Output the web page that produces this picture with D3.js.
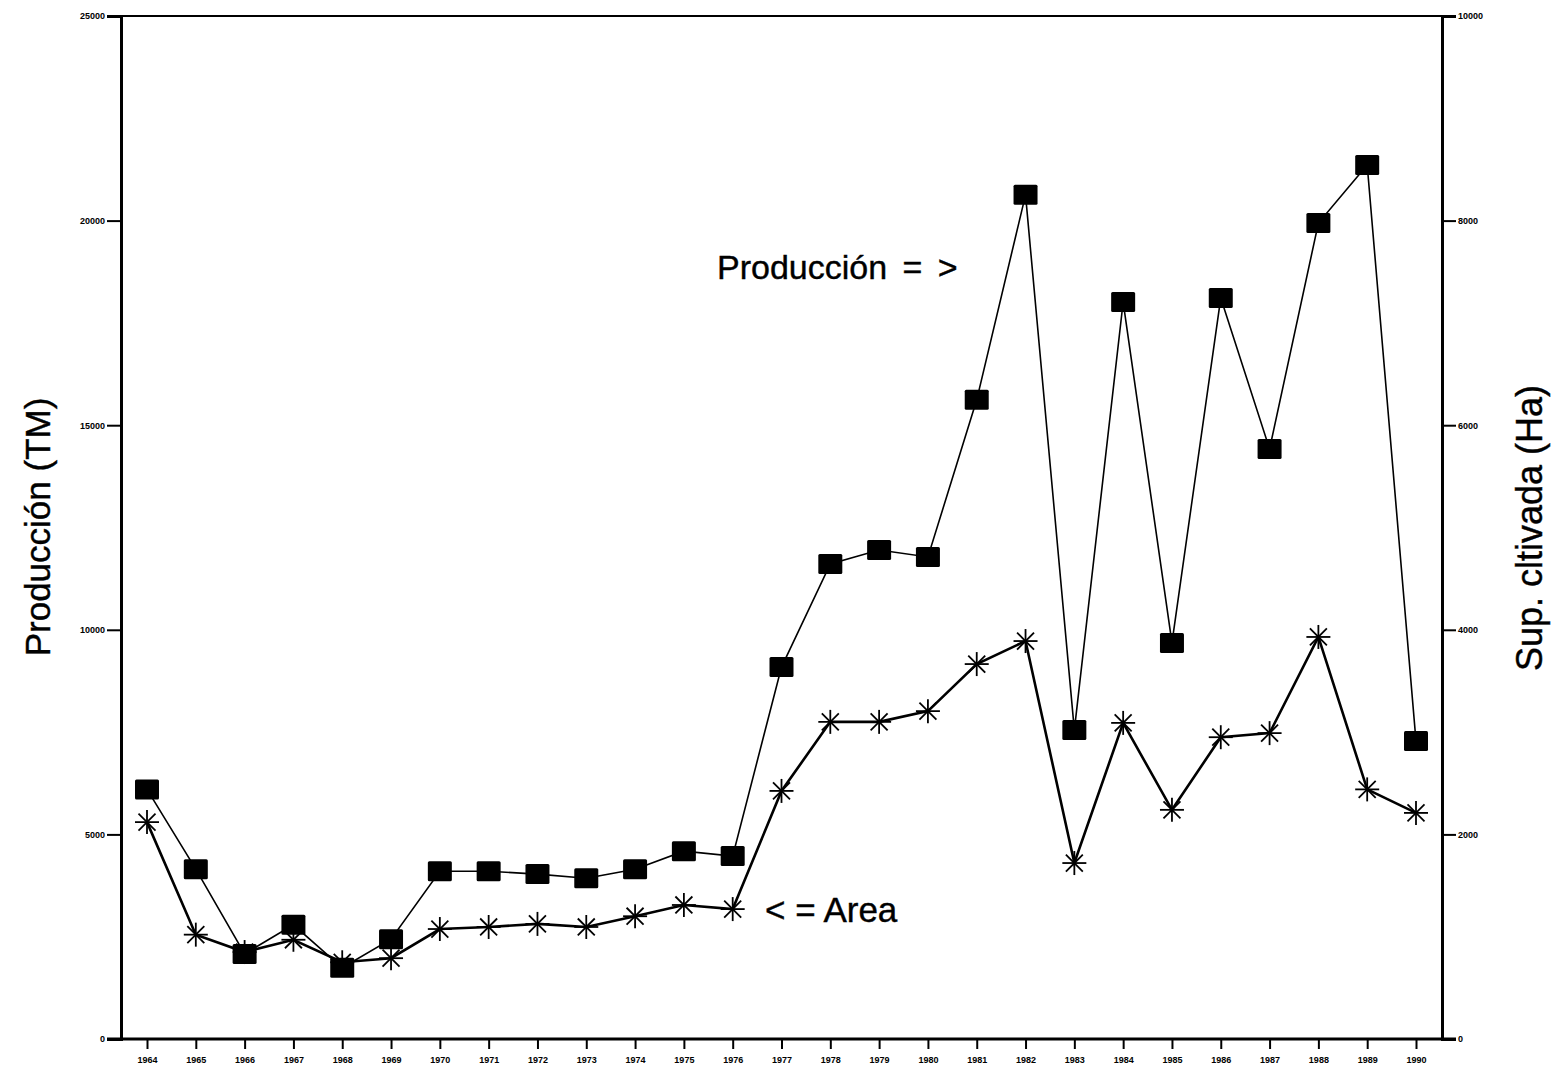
<!DOCTYPE html>
<html>
<head>
<meta charset="utf-8">
<script src="https://cdn.jsdelivr.net/npm/d3@7"></script>
<style>
  body { margin: 0; background: #fff; }
  svg { display: block; font-family: "Liberation Sans", Arial, sans-serif; }
  .tick text { font-weight: bold; font-size: 9px; }
  .label { stroke: black; stroke-width: 0.4px; }
</style>
</head>
<body>
<svg id="chart" width="1553" height="1070"></svg>
<script>
// Data
const years = d3.range(1964, 1991);
const produccion = [6100, 4150, 2080, 2790, 1740, 2440, 4100, 4100, 4030, 3930, 4150, 4590, 4470,
  9090, 11610, 11950, 11780, 15620, 20630, 7550, 18010, 9680, 18110, 14420, 19940, 21360, 7280];
const area = [2120, 1020, 850, 970, 750, 790, 1075, 1095, 1125, 1095, 1200, 1310, 1270,
  2425, 3100, 3100, 3205, 3665, 3890, 1720, 3090, 2240, 2950, 2990, 3930, 2440, 2210];
const leftTicks = [0, 5000, 10000, 15000, 20000, 25000];
const rightTicks = [0, 2000, 4000, 6000, 8000, 10000];

const svg = d3.select("#chart");
const mLeft = 121, mRight = 1442, mTop = 16, mBottom = 1039;

const x = d3.scalePoint().domain(years).range([147, 1416]);
const yL = d3.scaleLinear().domain([0, 25000]).range([mBottom, mTop]);
const yR = d3.scaleLinear().domain([0, 10000]).range([mBottom, mTop]);

// frame top line
svg.append("line")
  .attr("x1", mLeft).attr("x2", mRight).attr("y1", mTop).attr("y2", mTop)
  .attr("stroke", "black").attr("stroke-width", 2);

// left axis
const gL = svg.append("g").attr("transform", `translate(${mLeft},0)`)
  .call(d3.axisLeft(yL).tickValues(leftTicks).tickSize(14).tickPadding(2).tickFormat(d3.format("d")));
gL.select(".domain").attr("stroke-width", 3);
gL.selectAll(".tick line").attr("stroke-width", 2);

// right axis
const gR = svg.append("g").attr("transform", `translate(${mRight},0)`)
  .call(d3.axisRight(yR).tickValues(rightTicks).tickSize(14).tickPadding(2).tickFormat(d3.format("d")));
gR.select(".domain").attr("stroke-width", 3);
gR.selectAll(".tick line").attr("stroke-width", 2);

// bottom axis
svg.append("line")
  .attr("x1", mLeft - 14).attr("x2", mRight + 14).attr("y1", mBottom).attr("y2", mBottom)
  .attr("stroke", "black").attr("stroke-width", 3);
const gX = svg.append("g").attr("transform", `translate(0,${mBottom})`)
  .call(d3.axisBottom(x).tickSize(10).tickPadding(8));
gX.select(".domain").remove();
gX.selectAll(".tick line").attr("stroke-width", 2);

// produccion line + squares
svg.append("path")
  .datum(produccion)
  .attr("fill", "none").attr("stroke", "black").attr("stroke-width", 1.6)
  .attr("d", d3.line().x((d, i) => x(years[i])).y(d => yL(d)));

svg.append("g").selectAll("rect")
  .data(produccion)
  .join("rect")
  .attr("x", (d, i) => x(years[i]) - 12)
  .attr("y", d => yL(d) - 10)
  .attr("width", 24).attr("height", 20)
  .attr("rx", 1.5)
  .attr("fill", "black");

// area line + asterisks
svg.append("path")
  .datum(area)
  .attr("fill", "none").attr("stroke", "black").attr("stroke-width", 2.6)
  .attr("d", d3.line().x((d, i) => x(years[i])).y(d => yR(d)));

const star = svg.append("g").selectAll("g")
  .data(area)
  .join("g")
  .attr("transform", (d, i) => `translate(${x(years[i])},${yR(d)})`);
[0, 45, 90, 135].forEach(a => {
  star.append("line")
    .attr("x1", -12).attr("x2", 12).attr("y1", 0).attr("y2", 0)
    .attr("transform", `rotate(${a})`)
    .attr("stroke", "black").attr("stroke-width", 1.8);
});

// axis titles
svg.append("text")
  .attr("class", "label")
  .attr("transform", "translate(50,527) rotate(-90)")
  .attr("text-anchor", "middle")
  .style("font-size", "35px")
  .text("Producción (TM)");

svg.append("text")
  .attr("class", "label")
  .attr("transform", "translate(1542,528) rotate(-90)")
  .attr("text-anchor", "middle")
  .style("font-size", "36px")
  .text("Sup. cltivada (Ha)");

// annotations
svg.append("text")
  .attr("class", "label")
  .attr("x", 717).attr("y", 279)
  .style("font-size", "34px")
  .style("word-spacing", "6px")
  .text("Producción = >");

svg.append("text")
  .attr("class", "label")
  .attr("x", 765).attr("y", 922)
  .style("font-size", "35px")
  .text("< = Area");
</script>
</body>
</html>
